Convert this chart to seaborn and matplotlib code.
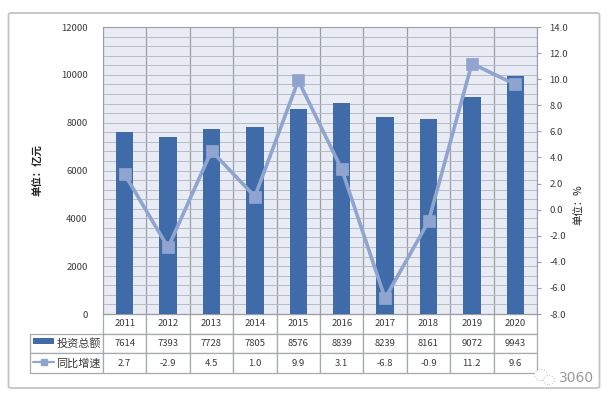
"""Investment total and growth rate, bars plus line with a data table below"""
import matplotlib
matplotlib.use("Agg")
import matplotlib.pyplot as plt
import numpy as np
import seaborn as sns
from matplotlib.lines import Line2D
from matplotlib.patches import Ellipse, FancyBboxPatch, Rectangle

years = ["2011", "2012", "2013", "2014", "2015", "2016", "2017", "2018", "2019", "2020"]
totals = [7614, 7393, 7728, 7805, 8576, 8839, 8239, 8161, 9072, 9943]
growth = [2.7, -2.9, 4.5, 1.0, 9.9, 3.1, -6.8, -0.9, 11.2, 9.6]
growth_labels = ["2.7", "-2.9", "4.5", "1.0", "9.9", "3.1", "-6.8", "-0.9", "11.2", "9.6"]
left_ticks = [0, 2000, 4000, 6000, 8000, 10000, 12000]
right_ticks = [-8, -6, -4, -2, 0, 2, 4, 6, 8, 10, 12, 14]
row_names = ["", "投资总额", "同比增速"]

BAR_COLOR = "#3f6ca8"
LINE_COLOR = "#8fa5d0"
GRID_COLOR = "#b7bbc4"
TEXT_COLOR = "#3a3a3a"
W, H = 612, 403

sns.set_theme(style="white")
plt.rcParams["font.family"] = ["Noto Sans CJK SC", "DejaVu Sans"]

fig = plt.figure(figsize=(W / 100, H / 100), dpi=100, facecolor="white")

# white card behind the chart
fig.add_artist(FancyBboxPatch((8.5 / W, 1 - 388 / H), 591 / W, 375 / H,
                              boxstyle="round,pad=0,rounding_size=0.004",
                              transform=fig.transFigure, facecolor="white",
                              edgecolor="#c4c4c4", linewidth=1.3, zorder=-5))

ax = fig.add_axes([103 / W, 1 - 314 / H, 434 / W, 287 / H])
ax.set_facecolor("#e9ecf4")
sns.barplot(x=years, y=totals, ax=ax, color=BAR_COLOR, saturation=1, width=0.4, zorder=3,
            linewidth=0, edgecolor="none")
ax.set_ylim(0, 12000)
ax.set_yticks(left_ticks)
ax.set_yticks(np.arange(0, 12001, 400), minor=True)
ax.set_xticks(np.arange(-0.5, 10, 1), minor=True)
ax.grid(which="both", axis="y", color=GRID_COLOR, linewidth=0.7)
ax.grid(which="minor", axis="x", color="#9a9ea8", linewidth=0.9)
ax.set_axisbelow(True)
ax.tick_params(axis="x", which="both", length=0, labelbottom=False)
ax.tick_params(axis="y", which="both", length=0, labelsize=6.8, labelcolor=TEXT_COLOR, pad=11)
ax.set_xlabel("")
for s in ax.spines.values():
    s.set_color("#9a9ea6")
    s.set_linewidth(0.8)

ax2 = ax.twinx()
sns.pointplot(x=years, y=growth, ax=ax2, color=LINE_COLOR, marker="s", markersize=7,
              linewidth=2.6, errorbar=None, zorder=5)
ax2.set_ylim(-8, 14)
ax2.set_yticks(right_ticks)
ax2.set_yticklabels([f"{t:.1f}" for t in right_ticks])
ax2.tick_params(axis="y", length=3, width=0.8, color="#9a9ea6", labelsize=6.8,
                labelcolor=TEXT_COLOR, pad=6, right=True)
ax2.set_ylabel("")
for s in ax2.spines.values():
    s.set_visible(False)

fig.text(38 / W, 1 - 170 / H, "单位：亿元", rotation=90, ha="center", va="center",
         fontsize=7.5, fontweight="bold", color="#222222")
fig.text(578 / W, 1 - 205 / H, "单位：%", rotation=90, ha="center", va="center",
         fontsize=7.5, color="#222222")

# data table under the plot, first column carries the legend keys
cells = [[row_names[0]] + years,
         [row_names[1]] + [str(v) for v in totals],
         [row_names[2]] + growth_labels]
row_h = 59 / 287
left = (30 - 103) / 434
tbl = ax.table(cellText=cells, cellLoc="center", colWidths=[73 / 434] + [43.4 / 434] * 10,
               bbox=[left, -row_h, 1 - left, row_h], zorder=2)
tbl.auto_set_font_size(False)
tbl.set_fontsize(6.8)
for (r, c), cell in tbl.get_celld().items():
    cell.set_edgecolor("#a6a9ae")
    cell.set_linewidth(0.9)
    cell.set_facecolor("white")
    cell.get_text().set_color(TEXT_COLOR)
    if c == 0:
        cell._loc = "right"
        cell.PAD = 0.03
        cell.get_text().set_ha("right")
        cell.get_text().set_fontsize(8)
        if r == 0:
            cell.visible_edges = ""
            cell.set_facecolor("none")

fig.add_artist(Rectangle((33 / W, 1 - 343.5 / H), 21 / W, 5.5 / H, transform=fig.transFigure,
                         facecolor=BAR_COLOR, edgecolor="none", zorder=10))
fig.add_artist(Line2D([33 / W, 54 / W], [1 - 362 / H] * 2, transform=fig.transFigure,
                      color=LINE_COLOR, linewidth=1.6, zorder=10))
fig.add_artist(Line2D([43.5 / W], [1 - 362 / H], transform=fig.transFigure, color=LINE_COLOR,
                      linestyle="none", marker="s", markersize=4.5, zorder=11))

# watermark
fig.text(576 / W, 1 - 378 / H, "3060", ha="center", va="center", fontsize=10,
         color="#9a9a9a", family="DejaVu Sans")
for cx, cy, ew, eh in [(541, 375, 13, 11), (549, 380, 11, 9)]:
    fig.add_artist(Ellipse((cx / W, 1 - cy / H), ew / W, eh / H, transform=fig.transFigure,
                           facecolor="white", edgecolor="#c9c9c9", linewidth=0.8, linestyle=":"))

fig.savefig("out.png", dpi=100)
